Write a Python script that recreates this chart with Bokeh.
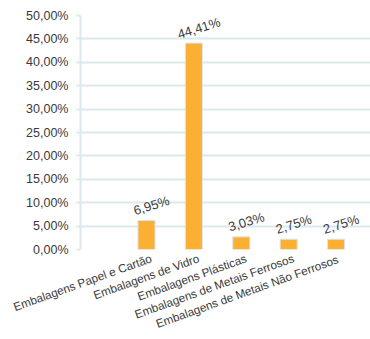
from bokeh.plotting import figure
from bokeh.models import ColumnDataSource, Range1d, FixedTicker, LabelSet
from bokeh.core.properties import value
from bokeh.embed import file_html
from bokeh.resources import INLINE

categories = ["Embalagens Papel e Cartão", "Embalagens de Vidro", "Embalagens Plásticas",
              "Embalagens de Metais Ferrosos", "Embalagens de Metais  Não Ferrosos"]
bar_values = [6.2, 44.1, 2.7, 2.2, 2.2]
label_texts = ["6,95%", "44,41%", "3,03%", "2,75%", "2,75%"]
y_ticks = [0, 5, 10, 15, 20, 25, 30, 35, 40, 45, 50]
y_tick_labels = ["0,00%", "5,00%", "10,00%", "15,00%", "20,00%", "25,00%",
                 "30,00%", "35,00%", "40,00%", "45,00%", "50,00%"]

xs = list(range(len(categories)))
src = ColumnDataSource(dict(x=xs, top=bar_values, lbl=label_texts))

GRID = "#dbe9ed"
FONT = "Liberation Sans"
TXT = "#3a3a3a"

p = figure(width=370, height=339, output_backend="svg", toolbar_location=None,
           x_range=Range1d(-1.392, 4.726), y_range=Range1d(0, 50),
           min_border_left=80, min_border_right=0, min_border_top=15, min_border_bottom=88)
p.outline_line_color = None
p.background_fill_color = "white"
p.border_fill_color = "white"

p.vbar(x="x", top="top", width=0.36, bottom=0, source=src,
       fill_color="#fbb034", line_color="#d8e6ea", line_width=1)

labels = LabelSet(x="x", y="top", text="lbl", source=src, x_offset=5, y_offset=15,
                  angle=0.3, text_align="center", text_baseline="middle",
                  text_font=value(FONT), text_font_size=value("13px"), text_color=TXT)
p.add_layout(labels)

# y axis
p.yaxis.ticker = FixedTicker(ticks=y_ticks)
p.yaxis.major_label_overrides = {t: l for t, l in zip(y_ticks, y_tick_labels)}
p.yaxis.axis_line_color = GRID
p.yaxis.axis_line_width = 2
p.yaxis.major_tick_line_color = GRID
p.yaxis.major_tick_line_width = 2
p.yaxis.major_tick_out = 4
p.yaxis.major_tick_in = 0
p.yaxis.minor_tick_line_color = None
p.yaxis.major_label_standoff = 8
p.yaxis.major_label_text_font = FONT
p.yaxis.major_label_text_font_size = "12.5px"
p.yaxis.major_label_text_color = TXT

# x axis (tick marks hidden; label anchors nudged so the rotated text ends at the bar)
label_pos = [round(x + 0.1, 2) for x in xs]
p.xaxis.ticker = FixedTicker(ticks=label_pos)
p.xaxis.major_label_overrides = {t: c for t, c in zip(label_pos, categories)}
p.xaxis.major_label_orientation = 0.345
p.xaxis.axis_line_color = None
p.xaxis.major_tick_line_color = None
p.xaxis.minor_tick_line_color = None
p.xaxis.major_tick_out = 0
p.xaxis.major_label_standoff = 8
p.xaxis.major_label_text_font = FONT
p.xaxis.major_label_text_font_size = "11.7px"
p.xaxis.major_label_text_color = TXT

p.xgrid.grid_line_color = None
p.ygrid.ticker = FixedTicker(ticks=y_ticks)
p.ygrid.grid_line_color = GRID
p.ygrid.grid_line_width = 2

open("out.html", "w").write(file_html(p, INLINE))
